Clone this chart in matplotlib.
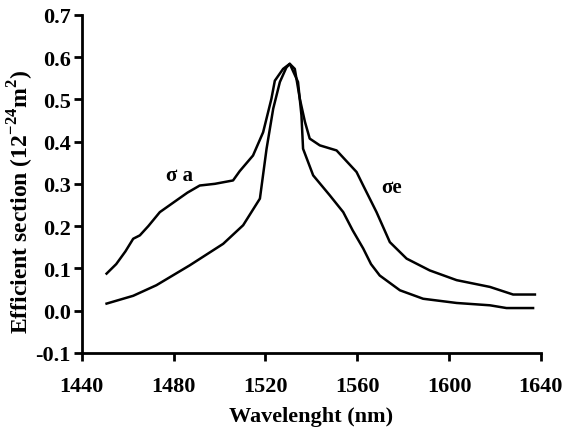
import matplotlib
matplotlib.use('Agg')
import matplotlib.pyplot as plt

plt.rcParams['font.family'] = ['Liberation Serif', 'DejaVu Serif']
plt.rcParams['mathtext.fontset'] = 'custom'
plt.rcParams['mathtext.rm'] = 'Liberation Serif'
plt.rcParams['mathtext.bf'] = 'Liberation Serif:bold'

# =====数据
wl_a = [1450.8, 1455, 1459, 1462.4, 1465.3, 1469, 1474, 1481.3, 1486, 1491.4, 1498, 1505.9,
        1508.8, 1514.6, 1519, 1522.6, 1524.1, 1527.7, 1530.6, 1534.2, 1535.7, 1536.4, 1540.8,
        1548, 1553.9, 1558, 1562.6, 1566, 1569.8, 1578.6, 1588.7, 1603.3, 1617.8, 1625, 1636.6]
sig_a = [0.0875, 0.11, 0.14, 0.170, 0.178, 0.20, 0.233, 0.261, 0.279, 0.296, 0.300, 0.308,
         0.33, 0.367, 0.422, 0.501, 0.544, 0.572, 0.584, 0.541, 0.462, 0.383, 0.320,
         0.273, 0.233, 0.19, 0.147, 0.11, 0.083, 0.048, 0.028, 0.018, 0.0125, 0.006, 0.006]

wl_e = [1450.8, 1462.4, 1472.5, 1487, 1501.6, 1510.3, 1517.6, 1520.5, 1523.4, 1526.3, 1529.1,
        1530.6, 1532.8, 1535, 1537.2, 1539.3, 1543.7, 1551, 1559.7, 1562.6, 1568.4, 1574.2,
        1581.5, 1591.6, 1603.3, 1617.8, 1627.9, 1637.4]
sig_e = [0.0165, 0.035, 0.060, 0.107, 0.158, 0.202, 0.265, 0.383, 0.478, 0.541, 0.575,
         0.584, 0.572, 0.501, 0.447, 0.407, 0.391, 0.379, 0.328, 0.296, 0.233, 0.162,
         0.123, 0.095, 0.072, 0.056, 0.038, 0.038]

fig = plt.figure(figsize=(5.64, 4.39), dpi=100)
ax = fig.add_axes([0.145, 0.194, 0.814, 0.77])

ax.plot(wl_a, sig_a, color='black', lw=1.8)
ax.plot(wl_e, sig_e, color='black', lw=1.8)

ax.text(1482.7, 0.322, 'σ a', fontsize=15, fontweight='bold', ha='center', va='center')
ax.text(1575, 0.293, 'σe', fontsize=15, fontweight='bold', ha='center', va='center')

ax.set_xlim(1440, 1640)
ax.set_ylim(-0.1, 0.7)
ax.set_xticks([1440, 1480, 1520, 1560, 1600, 1640])
ax.set_yticks([-0.1, 0.0, 0.1, 0.2, 0.3, 0.4, 0.5, 0.6, 0.7])
ax.set_yticklabels(['-0.1', '0.0', '0.1', '0.2', '0.3', '0.4', '0.5', '0.6', '0.7'])

for s in ['top', 'right']:
    ax.spines[s].set_visible(False)
for s in ['left', 'bottom']:
    ax.spines[s].set_linewidth(2)
ax.tick_params(direction='out', length=6, width=2, labelsize=16)
ax.tick_params(axis='x', pad=11)
ax.tick_params(axis='y', pad=2)
for lab in ax.get_xticklabels() + ax.get_yticklabels():
    lab.set_fontweight('bold')

ax.set_xlabel('Wavelenght (nm)', fontsize=16, fontweight='bold', labelpad=7)
ax.set_ylabel(r'Efficient section (12$^{\mathbf{-24}}$m$^{\mathbf{2}}$)', fontsize=17,
              fontweight='bold')
ax.yaxis.set_label_coords(-0.10, 0.45)

fig.savefig('out.png', dpi=100)
